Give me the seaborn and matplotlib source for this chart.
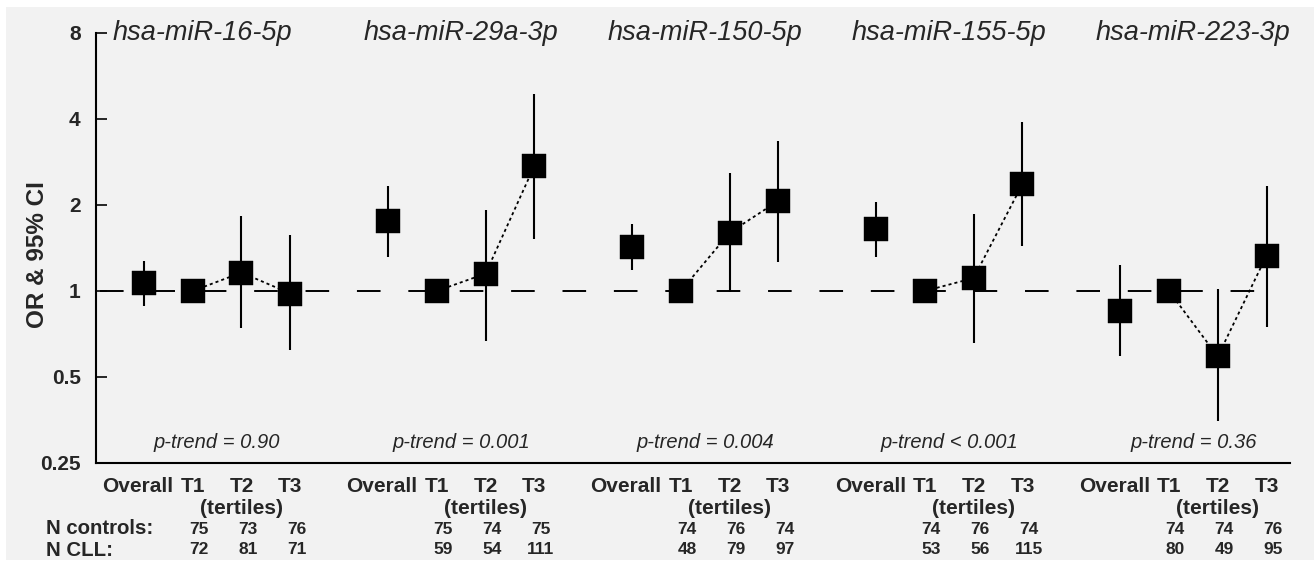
import numpy as np
import pandas as pd
import matplotlib
matplotlib.use("Agg")
import matplotlib.pyplot as plt
import matplotlib.transforms as mtransforms
from matplotlib.patches import Rectangle
import seaborn as sns

# ---------------- data ----------------
panels = ["hsa-miR-16-5p", "hsa-miR-29a-3p", "hsa-miR-150-5p", "hsa-miR-155-5p", "hsa-miR-223-3p"]
categories = ["Overall", "T1", "T2", "T3"]

or_overall = [1.07, 1.76, 1.43, 1.65, 0.85]
lo_overall = [0.886, 1.32, 1.18, 1.32, 0.59]
hi_overall = [1.27, 2.33, 1.72, 2.05, 1.23]

or_t1 = [1.0, 1.0, 1.0, 1.0, 1.0]

or_t2 = [1.16, 1.15, 1.60, 1.11, 0.59]
lo_t2 = [0.74, 0.67, 0.99, 0.66, 0.35]
hi_t2 = [1.83, 1.92, 2.59, 1.86, 1.02]

or_t3 = [0.98, 2.74, 2.07, 2.37, 1.33]
lo_t3 = [0.62, 1.52, 1.26, 1.44, 0.75]
hi_t3 = [1.57, 4.90, 3.35, 3.90, 2.33]

p_trend = ["p-trend = 0.90", "p-trend = 0.001", "p-trend = 0.004",
           "p-trend < 0.001", "p-trend = 0.36"]

n_controls = [[75, 73, 76], [75, 74, 75], [74, 76, 74], [74, 76, 74], [74, 74, 76]]
n_cll = [[72, 81, 71], [59, 54, 111], [48, 79, 97], [53, 56, 115], [80, 49, 95]]

yticks = [0.25, 0.5, 1, 2, 4, 8]
ytick_labels = ["0.25", "0.5", "1", "2", "4", "8"]

# ---------------- table ----------------
rows = []
for i, name in enumerate(panels):
    vals = [(or_overall[i], lo_overall[i], hi_overall[i]),
            (or_t1[i], np.nan, np.nan),
            (or_t2[i], lo_t2[i], hi_t2[i]),
            (or_t3[i], lo_t3[i], hi_t3[i])]
    for j, (cat, (o, lo, hi)) in enumerate(zip(categories, vals)):
        rows.append(dict(panel=name, pidx=i, cat=cat, x=5 * i + j, OR=o, lo=lo, hi=hi))
df = pd.DataFrame(rows)

# ---------------- style ----------------
sns.set_style("white")
plt.rcParams["font.family"] = ["Liberation Sans", "DejaVu Sans"]
plt.rcParams["lines.scale_dashes"] = False
BG = "#f2f2f2"

fig = plt.figure(figsize=(13.14, 5.63), dpi=100, facecolor="white")
fig.patches.append(Rectangle((6 / 1314, 3 / 563), 1 - 6 / 1314, 1 - 10 / 563,
                             transform=fig.transFigure, facecolor=BG,
                             edgecolor="none", zorder=-10))
ax = fig.add_axes([96 / 1314, 1 - 463 / 563, (1290 - 96) / 1314, (463 - 33) / 563])
ax.set_facecolor(BG)

ax.set_yscale("log", base=2)
ax.set_ylim(0.25, 8)
ax.set_xlim(-0.98, 23.48)

# reference line at OR = 1
ax.plot([-0.9, 23.0], [1, 1], color="black", lw=1.4,
        linestyle=(0, (17, 20)), zorder=1)

# error bars
ci = df.dropna(subset=["lo"])
ax.vlines(ci["x"], ci["lo"], ci["hi"], color="black", lw=1.5, zorder=2)

# dotted trend lines across tertiles
tert = df[df["cat"] != "Overall"]
sns.lineplot(data=tert, x="x", y="OR", units="panel", estimator=None,
             color="black", lw=1.3, linestyle=(0, (2.2, 2.2)), ax=ax,
             legend=False, zorder=3)

# squares
sns.scatterplot(data=df, x="x", y="OR", marker="s", s=17.5 ** 2, color="black",
                edgecolor="black", linewidth=0.3, ax=ax, legend=False, zorder=4)

# axes cosmetics
ax.set_yticks(yticks)
ax.set_yticklabels(ytick_labels)
ax.yaxis.set_minor_locator(matplotlib.ticker.NullLocator())
ax.set_xticks([])
ax.tick_params(axis="y", direction="in", length=8, width=1.4, pad=11,
               labelsize=15, left=True)
for lab in ax.get_yticklabels():
    lab.set_fontweight("bold")
ax.set_xlabel("")
ax.set_ylabel("")
for s in ["top", "right"]:
    ax.spines[s].set_visible(False)
for s in ["left", "bottom"]:
    ax.spines[s].set_linewidth(1.5)
    ax.spines[s].set_color("black")

fig.text(38 / 1314, 1 - 255 / 563, "OR & 95% CI", rotation=90, ha="center",
         va="center", fontsize=17.5, fontweight="bold")

# titles and p-trend
xt = ax.get_xaxis_transform()
for i, name in enumerate(panels):
    cx = 5 * i + (1.2 if i == 0 else 1.5)
    ax.text(cx, 1.0, name, transform=xt, ha="center", va="center",
            fontsize=19.5, style="italic")
    ax.text(5 * i + 1.5, 0.047, p_trend[i], transform=xt, ha="center",
            va="center", fontsize=14.5, style="italic")

# bottom labels
bt = mtransforms.blended_transform_factory(ax.transData, fig.transFigure)
for i in range(len(panels)):
    for j, cat in enumerate(categories):
        off = -0.12 if cat == "Overall" else 0.0
        fig.text(5 * i + j + off, 1 - 487 / 563, cat, transform=bt, ha="center",
                 va="center", fontsize=15, fontweight="bold")
    fig.text(5 * i + 2, 1 - 509 / 563, "(tertiles)", transform=bt, ha="center",
             va="center", fontsize=15, fontweight="bold")
    for j in range(3):
        fig.text(5 * i + j + 1 + 0.13, 1 - 529 / 563, str(n_controls[i][j]),
                 transform=bt, ha="center", va="center", fontsize=12.5,
                 fontweight="bold")
        fig.text(5 * i + j + 1 + 0.13, 1 - 550 / 563, str(n_cll[i][j]),
                 transform=bt, ha="center", va="center", fontsize=12.5,
                 fontweight="bold")

fig.text(46 / 1314, 1 - 529 / 563, "N controls:", ha="left", va="center",
         fontsize=14.7, fontweight="bold")
fig.text(46 / 1314, 1 - 550 / 563, "N CLL:", ha="left", va="center",
         fontsize=14.7, fontweight="bold")

fig.savefig("out.png", dpi=100, facecolor=fig.get_facecolor())
